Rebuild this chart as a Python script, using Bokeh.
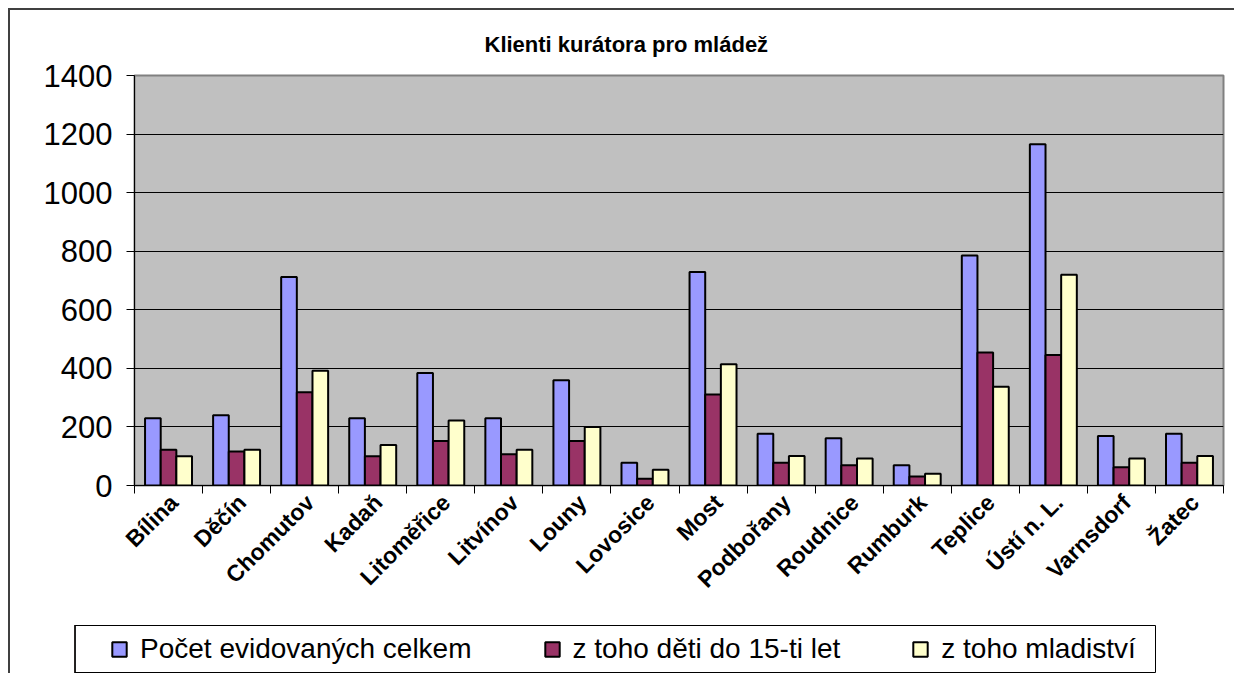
from math import pi
from bokeh.plotting import figure
from bokeh.layouts import column
from bokeh.models import (Range1d, LinearAxis, FixedTicker, Legend, LegendItem,
                          ColumnDataSource, CustomJSTickFormatter)
from bokeh.transform import dodge
from bokeh.embed import file_html
from bokeh.resources import INLINE

title = "Klienti kurátora pro mládež"
cities = ["Bílina", "Děčín", "Chomutov", "Kadaň", "Litoměřice", "Litvínov", "Louny", "Lovosice",
          "Most", "Podbořany", "Roudnice", "Rumburk", "Teplice", "Ústí n. L.", "Varnsdorf", "Žatec"]
celkem = [230, 240, 712, 230, 384, 230, 359, 78, 729, 177, 161, 69, 785, 1165, 169, 177]
deti = [122, 116, 318, 100, 152, 107, 152, 23, 311, 78, 69, 31, 454, 446, 62, 78]
mladistvi = [100, 122, 392, 138, 222, 122, 200, 54, 414, 101, 92, 40, 337, 720, 92, 101]
series_names = ["Počet evidovaných celkem", "z toho děti do 15-ti let", "z toho mladiství"]
series_keys = ["celkem", "deti", "mladistvi"]
colors = ["#9999FF", "#993366", "#FFFFCC"]
y_ticks = [0, 200, 400, 600, 800, 1000, 1200, 1400]

FONT = "Liberation Sans"
n = len(cities)
slot_center = [i + 0.5 for i in range(n)]
label_anchor = [i + 0.58 for i in range(n)]

source = ColumnDataSource(dict(city=cities, pos=slot_center, celkem=celkem, deti=deti,
                               mladistvi=mladistvi))

p = figure(x_range=Range1d(0, n), y_range=Range1d(0, 1400),
           frame_width=1089, frame_height=410,
           min_border_left=124, min_border_right=11, min_border_top=64, min_border_bottom=134,
           output_backend="svg", toolbar_location=None, x_axis_location=None,
           background_fill_color="#C0C0C0", border_fill_color="white")

p.outline_line_color = "#808080"
p.outline_line_width = 2

# title
p.title.text = title
p.title.align = "left"
p.title.offset = 350
p.title.text_font = FONT
p.title.text_font_style = "bold"
p.title.text_font_size = "22px"
p.title.text_color = "black"
p.title.standoff = 38

# y axis
yax = p.yaxis[0]
yax.ticker = FixedTicker(ticks=y_ticks)
yax.major_label_text_font = FONT
yax.major_label_text_font_size = "31px"
yax.major_label_text_color = "black"
yax.major_tick_out = 8
yax.major_tick_in = 0
yax.minor_tick_out = 0
yax.minor_tick_in = 0
yax.axis_line_color = "black"
yax.major_tick_line_color = "black"
yax.major_label_standoff = 14
p.ygrid.ticker = yax.ticker
p.ygrid.grid_line_color = "black"
p.ygrid.grid_line_width = 1
p.xgrid.visible = False

# bars
offsets = [-0.23, 0.0, 0.23]
renderers = []
for key, off, col in zip(series_keys, offsets, colors):
    r = p.vbar(x=dodge("pos", off), top=key, width=0.23, source=source,
               fill_color=col, line_color="black", line_width=2)
    renderers.append(r)

# x axes: ticks at category boundaries + category labels
tick_axis = LinearAxis(ticker=FixedTicker(ticks=list(range(n + 1))),
                       formatter=CustomJSTickFormatter(code="return ''"),
                       major_label_text_font_size="1px", major_label_standoff=0,
                       major_tick_out=8, major_tick_in=0, minor_tick_out=0, minor_tick_in=0,
                       axis_line_color="black", major_tick_line_color="black")
cat_axis = LinearAxis(ticker=FixedTicker(ticks=label_anchor),
                      formatter=CustomJSTickFormatter(args=dict(names=cities),
                                                      code="return names[Math.floor(tick)];"),
                      major_label_orientation=pi / 4, major_tick_line_color=None,
                      minor_tick_line_color=None, axis_line_color=None,
                      major_tick_out=0, major_tick_in=0,
                      major_label_text_font=FONT, major_label_text_font_style="bold",
                      major_label_text_font_size="23px", major_label_text_color="black",
                      major_label_standoff=5)
p.add_layout(tick_axis, "below")
p.add_layout(cat_axis, "below")

# legend strip: its frame is the legend box
leg = figure(x_range=Range1d(0, 1), y_range=Range1d(0, 1),
             frame_width=1081, frame_height=47,
             min_border_left=64, min_border_right=79, min_border_top=6, min_border_bottom=2,
             output_backend="svg", toolbar_location=None,
             x_axis_location=None, y_axis_location=None,
             background_fill_color="white", border_fill_color="white")
leg.outline_line_color = "black"
leg.outline_line_width = 1
leg.xgrid.visible = False
leg.ygrid.visible = False

for fig in (p, leg):
    try:
        fig.frame_align = False
    except Exception:
        pass

# swatch proxies (kept outside the strip's visible range; only their legend glyphs show)
swatches = []
for col in colors:
    swatches.append(leg.vbar(x=[-5], top=[1], width=0.1, fill_color=col,
                             line_color="black", line_width=2))
legend = Legend(items=[LegendItem(label=nm, renderers=[r]) for nm, r in zip(series_names, swatches)],
                location=(36, 0), orientation="horizontal", padding=0, margin=0, spacing=71,
                glyph_width=18, glyph_height=18, label_standoff=12, label_height=47,
                label_text_font=FONT, label_text_font_size="28px", label_text_color="black",
                border_line_alpha=0, background_fill_alpha=0)
leg.add_layout(legend, "center")

layout = column(p, leg, spacing=0,
                styles={"margin-left": "8px", "margin-top": "8px",
                        "border-top": "2px solid #404040", "border-left": "2px solid #404040"})

open("out.html", "w").write(file_html(layout, INLINE))
